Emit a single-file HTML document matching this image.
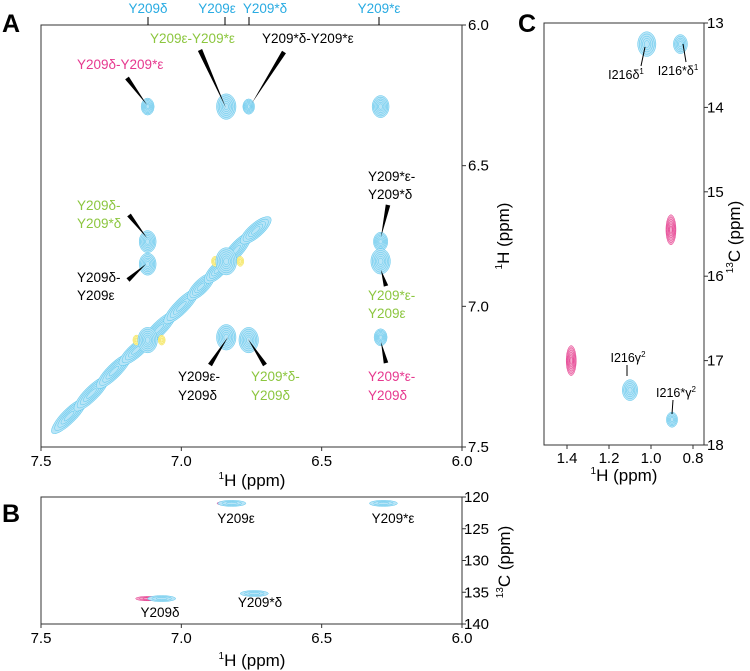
<!DOCTYPE html>
<html><head><meta charset="utf-8"><style>
html,body{margin:0;padding:0;background:#fff;}
svg{display:block;font-family:"Liberation Sans",sans-serif;}
</style></head><body>
<svg id="fig" width="750" height="671" viewBox="0 0 750 671">
<g id="gA"></g>
<g id="gB"></g>
<g id="gC"></g>
<g id="txt" font-size="13.5">
 <text x="2" y="32" font-size="25" font-weight="bold">A</text>
 <text x="2" y="522" font-size="25" font-weight="bold">B</text>
 <text x="518" y="32" font-size="25" font-weight="bold">C</text>
 <g fill="#29abe2" text-anchor="middle">
  <text x="148" y="13">Y209δ</text>
  <text x="217" y="13">Y209ε</text>
  <text x="265" y="13">Y209*δ</text>
  <text x="379" y="13">Y209*ε</text>
 </g>
 <g stroke="#000" stroke-width="1">
  <line x1="148" y1="17" x2="148" y2="25"/><line x1="225" y1="17" x2="225" y2="25"/>
  <line x1="249" y1="17" x2="249" y2="25"/><line x1="379" y1="17" x2="379" y2="25"/>
 </g>
 <g>
  <text x="150" y="43" fill="#8cc63f">Y209ε-Y209*ε</text>
  <text x="262" y="43" fill="#000">Y209*δ-Y209*ε</text>
  <text x="77" y="69" fill="#e6398f">Y209δ-Y209*ε</text>
  <text x="368" y="181" fill="#000"><tspan x="368">Y209*ε-</tspan><tspan x="368" dy="18">Y209*δ</tspan></text>
  <text x="77" y="210" fill="#8cc63f"><tspan x="77">Y209δ-</tspan><tspan x="77" dy="18">Y209*δ</tspan></text>
  <text x="77" y="282" fill="#000"><tspan x="77">Y209δ-</tspan><tspan x="77" dy="18">Y209ε</tspan></text>
  <text x="368" y="300" fill="#8cc63f"><tspan x="368">Y209*ε-</tspan><tspan x="368" dy="18">Y209ε</tspan></text>
  <text x="178" y="381" fill="#000"><tspan x="178">Y209ε-</tspan><tspan x="178" dy="19">Y209δ</tspan></text>
  <text x="251" y="381" fill="#8cc63f"><tspan x="251">Y209*δ-</tspan><tspan x="251" dy="19">Y209δ</tspan></text>
  <text x="368" y="381" fill="#e6398f"><tspan x="368">Y209*ε-</tspan><tspan x="368" dy="19">Y209δ</tspan></text>
 </g>
 <g text-anchor="middle">
  <text x="236" y="523">Y209ε</text>
  <text x="393" y="523">Y209*ε</text>
  <text x="160" y="617">Y209δ</text>
  <text x="260" y="607">Y209*δ</text>
 </g>
 <g text-anchor="middle" font-size="12.5">
  <text x="626" y="79">I216δ<tspan font-size="8" dy="-5">1</tspan></text>
  <text x="678" y="75">I216*δ<tspan font-size="8" dy="-5">1</tspan></text>
  <text x="628" y="362">I216γ<tspan font-size="8" dy="-5">2</tspan></text>
  <text x="676" y="397">I216*γ<tspan font-size="8" dy="-5">2</tspan></text>
  <g stroke="#000" stroke-width="1"><line x1="645" y1="47" x2="641" y2="66"/><line x1="683" y1="44" x2="686" y2="62"/>
  <line x1="627" y1="365" x2="627" y2="376"/><line x1="673" y1="400" x2="672" y2="414"/></g>
 </g>
</g>
</svg>
<script>
// ---- Panel A data (1H ppm x, 1H ppm y) ----
const peakAx = [7.12, 6.84, 6.76, 6.29, 7.12, 7.12, 6.29, 6.29, 6.84, 6.76, 6.29, 7.12, 6.84];
const peakAy = [6.29, 6.29, 6.29, 6.29, 6.77, 6.85, 6.77, 6.84, 7.11, 7.12, 7.11, 7.12, 6.84];
const peakAsize = [1.0, 1.5, 0.9, 1.3, 1.3, 1.3, 1.1, 1.5, 1.5, 1.5, 1.0, 1.5, 1.6];
const diagX = [7.44, 7.36, 7.28, 7.20, 7.12, 7.04, 6.96, 6.90, 6.84, 6.77, 6.70];
const diagY = [7.43, 7.35, 7.27, 7.19, 7.12, 7.04, 6.96, 6.90, 6.84, 6.76, 6.70];
const negAx = [7.16, 7.07, 6.88, 6.79];
const negAy = [7.12, 7.12, 6.84, 6.84];
const xTicksA = ["7.5","7.0","6.5","6.0"];
const yTicksA = ["6.0","6.5","7.0","7.5"];
// ---- Panel B data (1H ppm, 13C ppm) ----
const peakBx = [6.82, 6.28, 7.07, 6.74];
const peakBy = [121.0, 121.0, 136.0, 135.2];
const peakBpinkX = [6.83, 7.12];
const peakBpinkY = [121.0, 136.0];
const yTicksB = ["120","125","130","135","140"];
// ---- Panel C data (1H ppm, 13C ppm) ----
const peakCx = [1.02, 0.86, 1.10, 0.90];
const peakCy = [13.25, 13.25, 17.35, 17.70];
const peakCsize = [1.3, 1.0, 1.1, 0.8];
const pinkCx = [0.905, 1.38];
const pinkCy = [15.45, 17.0];
const xTicksC = ["1.4","1.2","1.0","0.8"];
const yTicksC = ["13","14","15","16","17","18"];

const NS="http://www.w3.org/2000/svg";
function mk(tag,attrs,parent){const e=document.createElementNS(NS,tag);for(const k in attrs)e.setAttribute(k,attrs[k]);parent.appendChild(e);return e;}
const BLUE="#5cc6ec",BLUEF="#b9e5f7",PINK="#e4388c",PINKF="#f5a9cc";
function rings(g,cx,cy,rx,ry,stroke,fill,n,rot){
  const grp=mk('g',{transform:`rotate(${rot||0} ${cx} ${cy})`},g);
  for(let i=0;i<n;i++){const s=1-i/n*0.9;
    mk('ellipse',{cx:cx,cy:cy,rx:rx*s,ry:ry*s,fill:i==0?fill:'none',stroke:stroke,'stroke-width':0.5},grp);}
  return grp;
}
// Panel A
const A={x0:41,x1:462,y0:25,y1:447};
const axA=v=>A.x0+(7.5-v)/1.5*(A.x1-A.x0);
const ayA=v=>A.y0+(v-6.0)/1.5*(A.y1-A.y0);
const gA=document.getElementById('gA');
for(let i=0;i<diagX.length-1;i++){
  const x1=axA(diagX[i]),y1=ayA(diagY[i]),x2=axA(diagX[i+1]),y2=ayA(diagY[i+1]);
  const cx=(x1+x2)/2,cy=(y1+y2)/2,len=Math.hypot(x2-x1,y2-y1);
  const ang=Math.atan2(y2-y1,x2-x1)*180/Math.PI;
  const seg=rings(gA,cx,cy,len*0.75,7,BLUE,BLUEF,5,ang);
  
  
}
negAx.forEach((v,i)=>{const e=rings(gA,axA(v),ayA(negAy[i]),3.5,5,"#f2e04a","#fbf3a8",3,0);
  
  });
peakAx.forEach((v,i)=>{const s=peakAsize[i];
  const e=rings(gA,axA(v),ayA(peakAy[i]),6.5*s,8.5*s,BLUE,BLUEF,6,0);
  
  });
const wedges=[[200,50,226,108],[284,52,252,103],[127,78,147,105],[388,205,381,237],[129,215,147,238],[128,280,146,264],[386,286,381,270],[210,365,228,337],[265,365,248,339],[386,363,381,342]];
wedges.forEach(w=>{const dx=w[2]-w[0],dy=w[3]-w[1],l=Math.hypot(dx,dy),nx=-dy/l*2.3,ny=dx/l*2.3;
  const p=mk('polygon',{points:`${w[0]+nx},${w[1]+ny} ${w[0]-nx},${w[1]-ny} ${w[2]},${w[3]}`,fill:'#000'},gA);
  
  });
function frame(g,b,name){const r=mk('rect',{x:b.x0,y:b.y0,width:b.x1-b.x0,height:b.y1-b.y0,fill:'none',stroke:'#333','stroke-width':1},g);
  
  }
frame(gA,A,'panel-a-frame');
xTicksA.forEach(t=>{const x=axA(+t);mk('line',{x1:x,y1:A.y1,x2:x,y2:A.y1+4,stroke:'#333'},gA);
  const e=mk('text',{x:x,y:A.y1+19,'font-size':15,'text-anchor':'middle'},gA);e.textContent=t;
  
  });
yTicksA.forEach(t=>{const y=ayA(+t);mk('line',{x1:A.x1,y1:y,x2:A.x1+4,y2:y,stroke:'#333'},gA);
  const e=mk('text',{x:A.x1+6,y:y+5,'font-size':15},gA);e.textContent=t;
  
  });
function hlabel(g,x,y,name,iso,size){const t=mk('text',{x:x,y:y,'font-size':size||17,'text-anchor':'middle'},g);
  t.innerHTML=`<tspan font-size="10" dy="-7">${iso}</tspan><tspan dy="7">${name} (ppm)</tspan>`;return t;}
let t=hlabel(gA,252,486,'H','1');


t=hlabel(gA,0,0,'H','1');t.setAttribute('transform','translate(509,236) rotate(-90)');


// Panel B
const B={x0:41,x1:462,y0:497,y1:624};
const axB=v=>B.x0+(7.5-v)/1.5*(B.x1-B.x0);
const ayB=v=>B.y0+(v-120)/20*(B.y1-B.y0);
const gB=document.getElementById('gB');
peakBpinkX.forEach((v,i)=>{const e=rings(gB,axB(v),ayB(peakBpinkY[i]),12,2.2,PINK,PINKF,3,0);
  
  });
peakBx.forEach((v,i)=>{const e=rings(gB,axB(v),ayB(peakBy[i]),14,3,BLUE,BLUEF,3,0);
  
  });
frame(gB,B,'panel-b-frame');
xTicksA.forEach(t=>{const x=axB(+t);mk('line',{x1:x,y1:B.y1,x2:x,y2:B.y1+4,stroke:'#333'},gB);
  const e=mk('text',{x:x,y:B.y1+19,'font-size':15,'text-anchor':'middle'},gB);e.textContent=t;
  
  });
yTicksB.forEach(t=>{const y=ayB(+t);mk('line',{x1:B.x1,y1:y,x2:B.x1+4,y2:y,stroke:'#333'},gB);
  const e=mk('text',{x:B.x1+2,y:y+5,'font-size':15},gB);e.textContent=t;
  
  });
t=hlabel(gB,252,666,'H','1');


t=hlabel(gB,0,0,'C','13');t.setAttribute('transform','translate(510,562) rotate(-90)');


// Panel C
const C={x0:544,x1:704,y0:23,y1:445};
const axC=v=>567+(1.4-v)/0.6*(693-567);
const ayC=v=>C.y0+(v-13)/5*(C.y1-C.y0);
const gC=document.getElementById('gC');
pinkCx.forEach((v,i)=>{const e=rings(gC,axC(v),ayC(pinkCy[i]),5,15,PINK,PINKF,6,0);
  
  });
peakCx.forEach((v,i)=>{const s=peakCsize[i];const e=rings(gC,axC(v),ayC(peakCy[i]),7*s,9.5*s,BLUE,BLUEF,5,0);
  
  });
frame(gC,C,'panel-c-frame');
xTicksC.forEach(t=>{const x=axC(+t);mk('line',{x1:x,y1:C.y1,x2:x,y2:C.y1+4,stroke:'#333'},gC);
  const e=mk('text',{x:x,y:C.y1+18,'font-size':15,'text-anchor':'middle'},gC);e.textContent=t;
  
  });
yTicksC.forEach(t=>{const y=ayC(+t);mk('line',{x1:C.x1,y1:y,x2:C.x1+4,y2:y,stroke:'#333'},gC);
  const e=mk('text',{x:C.x1+3,y:y+5,'font-size':15},gC);e.textContent=t;
  
  });
t=hlabel(gC,624,481,'H','1');


t=hlabel(gC,0,0,'C','13');t.setAttribute('transform','translate(740,237) rotate(-90)');


</script>
</body></html>
